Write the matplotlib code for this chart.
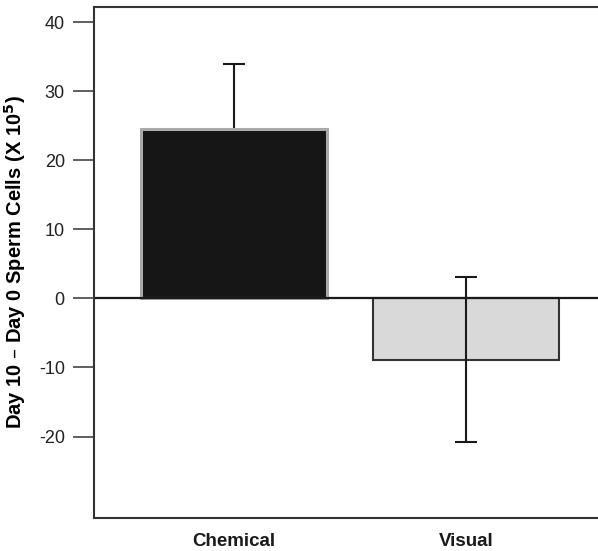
import matplotlib.pyplot as plt

plt.rcParams['font.family'] = ['Liberation Sans', 'DejaVu Sans']

# data
groups = ["Chemical", "Visual"]
means = [24.6, -8.9]
errors = [9.4, 11.95]
yticks = [40, 30, 20, 10, 0, -10, -20]

fig = plt.figure(figsize=(5.98, 5.51), dpi=100)
ax = fig.add_axes([94 / 598, 1 - 518 / 551, 1 - 94 / 598, (518 - 7) / 551])

x = list(range(len(groups)))
# chemical error bar sits behind its (black) bar so only the upper half shows
ax.errorbar(x[0], means[0], yerr=errors[0], fmt="none", ecolor="#1a1a1a", elinewidth=1.5,
            capsize=8, capthick=1.5, zorder=1)
ax.bar(x[0], means[0], width=0.8, color="#161616", edgecolor="#aaaaaa", linewidth=2.2, zorder=2)
ax.bar(x[1], means[1], width=0.8, color="#d9d9d9", edgecolor="#333333", linewidth=1.5, zorder=2)
ax.errorbar(x[1], means[1], yerr=errors[1], fmt="none", ecolor="#1a1a1a", elinewidth=1.5,
            capsize=8, capthick=1.5, zorder=3)
ax.axhline(0, color="#1a1a1a", linewidth=1.6, zorder=2.5)

ax.set_xlim(-0.603, 1.569)
ax.set_ylim(-31.8, 42.2)
ax.set_yticks(yticks)
ax.set_yticklabels([str(t) for t in yticks], fontsize=13, color="#222222")
ax.tick_params(axis="y", length=15, width=1.2, color="#444444", pad=6)
ax.set_xticks(x)
ax.set_xticklabels(groups, fontsize=13.5, fontweight="bold", color="#1a1a1a")
ax.tick_params(axis="x", length=0, pad=11)

ax.spines["right"].set_visible(False)
for s in ["left", "top", "bottom"]:
    ax.spines[s].set_linewidth(1.5)
    ax.spines[s].set_color("#333333")

ax.set_ylabel("Day 10 \u2013 Day 0 Sperm Cells (X 10$^{\\mathbf{5}}$)", fontsize=14.5,
              fontweight="bold", labelpad=8)

fig.savefig("out.png", dpi=100)
